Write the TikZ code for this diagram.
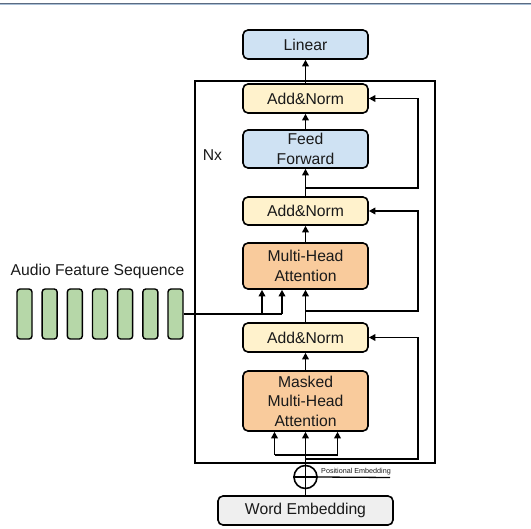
\documentclass[tikz,border=0pt]{standalone}
\usepackage{fontspec}
\setmainfont{Liberation Sans}
\usetikzlibrary{arrows.meta}
\definecolor{blueC}{HTML}{CFE2F3}
\definecolor{yellowC}{HTML}{FFF2CC}
\definecolor{orangeC}{HTML}{F9CB9C}
\definecolor{greenC}{HTML}{B6D7A8}
\definecolor{greyC}{HTML}{EFEFEF}
\definecolor{rulebar}{HTML}{5B6B82}
\definecolor{rulebarlight}{HTML}{A9BFD6}
\definecolor{ink}{HTML}{1A1A1A}
\begin{document}
\begin{tikzpicture}[x=1pt,y=-1pt,
  block/.style={draw=black, line width=1.6pt, rounded corners=5pt, minimum width=125pt,
    align=center, text=ink, inner sep=0pt, font=\fontsize{15.7}{19.5}\selectfont},
  bar/.style={draw=black, line width=1.4pt, rounded corners=3pt, fill=greenC,
    minimum width=15pt, minimum height=50pt, inner sep=0pt},
  wire/.style={line width=1.7pt},
  arr/.style={line width=1.7pt, -{Triangle[length=6.5pt,width=6.5pt]}},
  lbl/.style={text=ink, inner sep=0pt, font=\fontsize{15.7}{19.5}\selectfont}]
\useasboundingbox (0,0) rectangle (531,529);

% header rule
\draw[rulebar, line width=1.2pt] (0,3.3) -- (531,3.3);
\draw[rulebarlight, line width=1pt] (0,4.5) -- (531,4.5);

% repeated decoder layer frame
\draw[line width=1.7pt] (195,81) rectangle (435,463);
\node[lbl] (nx) at (212.5,155) {Nx};

% blocks
\node[block, fill=blueC, minimum height=29pt] (linear) at (305.5,44.5) {Linear};
\node[block, fill=yellowC, minimum height=29pt] (an1) at (305.5,98.5) {Add\&Norm};
\node[block, fill=blueC, minimum height=38pt] (ff) at (305.5,149) {Feed\\Forward};
\node[block, fill=yellowC, minimum height=28pt] (an2) at (305.5,211) {Add\&Norm};
\node[block, fill=orangeC, minimum height=46pt] (mha) at (305.5,266) {Multi-Head\\Attention};
\node[block, fill=yellowC, minimum height=29pt] (an3) at (305.5,337.5) {Add\&Norm};
\node[block, fill=orangeC, minimum height=60pt] (masked) at (305.5,401) {Masked\\Multi-Head\\Attention};
\node[block, fill=greyC, minimum width=175pt, minimum height=29pt] (we) at (305.5,510.5) {Word Embedding};

% audio feature sequence
\node[lbl] (audiolbl) at (97.5,271.5) {Audio Feature Sequence};
\foreach \i in {1,...,7} {
  \node[bar] (b\i) at ({24.5+25.17*(\i-1)},314) {};
}

% main data path
\draw[arr] (an1.north) -- (linear.south);
\draw[arr] (ff.north) -- (an1.south);
\draw[arr] (an2.north) -- (ff.south);
\draw[arr] (mha.north) -- (an2.south);
\draw[arr] (an3.north) -- (mha.south);
\draw[arr] (masked.north) -- (an3.south);
\draw[arr] (we.north) -- (masked.south);

% residual connections
\coordinate (r1) at (305.5,188);
\coordinate (r2) at (305.5,311);
\coordinate (r3) at (305.5,459);
\draw[arr] (r1) -- (418,188) |- (an1.east);
\draw[arr] (r2) -- (418,311) |- (an2.east);
\draw[arr] (r3) -- (418,459) |- (an3.east);

% audio features into cross attention
\coordinate (k1) at (262,314);
\coordinate (k2) at (282,314);
\draw[wire] (b7.east) -- (k2);
\draw[arr] (k1) -- (k1 |- mha.south);
\draw[arr] (k2) -- (k2 |- mha.south);

% self attention inputs
\coordinate (q1) at (274.5,455);
\coordinate (q2) at (337.5,455);
\draw[wire] (q1) -- (q2);
\draw[arr] (q1) -- (q1 |- masked.south);
\draw[arr] (q2) -- (q2 |- masked.south);

% positional embedding sum
\node[circle, draw=black, line width=1.6pt, minimum size=23pt, inner sep=0pt] (oplus) at (305.5,477) {};
\draw[wire] (oplus.west) -- (oplus.east);
\coordinate (pe) at (390,477.5);
\draw[line width=1.3pt] (oplus.east) -- (pe);
\node[anchor=base west, inner sep=0pt, text=ink, font=\fontsize{7.2}{8}\selectfont] (pelbl) at (321,473.5) {Positional Embedding};
\end{tikzpicture}
\end{document}
